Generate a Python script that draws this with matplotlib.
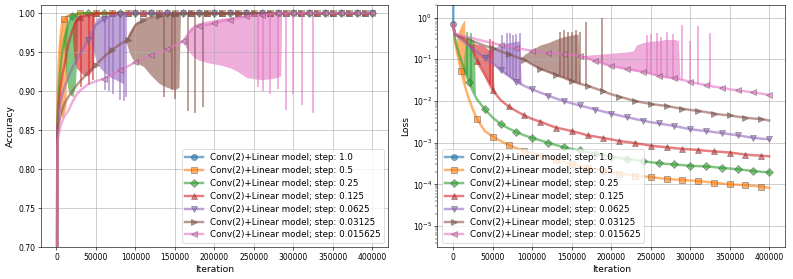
import numpy as np
import matplotlib
matplotlib.use("Agg")
import matplotlib.pyplot as plt

plt.rcParams.update({
    "font.size": 10,
    "axes.labelsize": 12,
    "legend.fontsize": 11.4,
    "legend.labelspacing": 0.45,
    "axes.grid": True,
})

# iteration grid shared by the mean curves
ITER = [0, 1000, 2000, 3000, 5000, 7500, 10000, 15000, 20000, 25000, 30000,
        40000, 50000, 60000, 70000, 80000, 90000, 100000, 110000, 120000, 130000,
        140000, 150000, 160000, 170000, 180000, 190000, 200000, 210000, 220000, 230000,
        240000, 250000, 260000, 270000, 280000, 290000, 300000, 310000, 320000, 330000,
        340000, 350000, 360000, 370000, 380000, 390000, 400000]

STEPS   = ["1.0", "0.5", "0.25", "0.125", "0.0625", "0.03125", "0.015625"]
MARKERS = ["o", "s", "D", "^", "v", ">", "<"]
COLORS  = ["C0", "C1", "C2", "C3", "C4", "C5", "C6"]

# step 1.0 diverges right away
blue_x    = [0, 400]
blue_acc  = [0.10, 0.10]
blue_loss = [0.7, 100.0]

# ---- accuracy curves ----
acc_05 = [0.10, 0.86, 0.915, 0.94, 0.97, 0.99, 0.993, 0.997, 0.998, 0.999, 1.0,
          1.0, 1.0, 1.0, 1.0, 1.0, 1.0, 1.0, 1.0, 1.0, 1.0,
          1.0, 1.0, 1.0, 1.0, 1.0, 1.0, 1.0, 1.0, 1.0, 1.0,
          1.0, 1.0, 1.0, 1.0, 1.0, 1.0, 1.0, 1.0, 1.0, 1.0,
          1.0, 1.0, 1.0, 1.0, 1.0, 1.0, 1.0]
acc_025 = [0.10, 0.85, 0.88, 0.905, 0.93, 0.952, 0.967, 0.988, 0.997, 0.999, 1.0,
           1.0, 1.0, 1.0, 1.0, 1.0, 1.0, 1.0, 1.0, 1.0, 1.0,
           1.0, 1.0, 1.0, 1.0, 1.0, 1.0, 1.0, 1.0, 1.0, 1.0,
           1.0, 1.0, 1.0, 1.0, 1.0, 1.0, 1.0, 1.0, 1.0, 1.0,
           1.0, 1.0, 1.0, 1.0, 1.0, 1.0, 1.0]
acc_0125 = [0.10, 0.85, 0.87, 0.885, 0.905, 0.922, 0.933, 0.96, 0.978, 0.99, 0.995,
            0.998, 1.0, 1.0, 1.0, 1.0, 1.0, 1.0, 1.0, 1.0, 1.0,
            1.0, 1.0, 1.0, 1.0, 1.0, 1.0, 1.0, 1.0, 1.0, 1.0,
            1.0, 1.0, 1.0, 1.0, 1.0, 1.0, 1.0, 1.0, 1.0, 1.0,
            1.0, 1.0, 1.0, 1.0, 1.0, 1.0, 1.0]
acc_00625 = [0.10, 0.845, 0.86, 0.872, 0.885, 0.897, 0.905, 0.918, 0.93, 0.94, 0.948,
             0.966, 0.985, 0.993, 0.997, 0.999, 1.0, 1.0, 1.0, 1.0, 1.0,
             1.0, 1.0, 1.0, 1.0, 1.0, 1.0, 1.0, 1.0, 1.0, 1.0,
             1.0, 1.0, 1.0, 1.0, 1.0, 1.0, 1.0, 1.0, 1.0, 1.0,
             1.0, 1.0, 1.0, 1.0, 1.0, 1.0, 1.0]
acc_003125 = [0.10, 0.84, 0.85, 0.858, 0.868, 0.877, 0.884, 0.893, 0.90, 0.907, 0.913,
              0.924, 0.934, 0.944, 0.953, 0.96, 0.966, 0.985, 0.992, 0.995, 0.997,
              0.998, 0.999, 1.0, 1.0, 1.0, 1.0, 1.0, 1.0, 1.0, 1.0,
              1.0, 1.0, 1.0, 1.0, 1.0, 1.0, 1.0, 1.0, 1.0, 1.0,
              1.0, 1.0, 1.0, 1.0, 1.0, 1.0, 1.0]
acc_0015625 = [0.10, 0.83, 0.84, 0.845, 0.855, 0.862, 0.868, 0.875, 0.886, 0.895, 0.901,
               0.909, 0.913, 0.916, 0.921, 0.927, 0.932, 0.937, 0.942, 0.946, 0.95,
               0.954, 0.959, 0.964, 0.978, 0.984, 0.985, 0.987, 0.99, 0.992, 0.994,
               0.996, 0.997, 0.998, 0.999, 1.0, 1.0, 1.0, 1.0, 1.0, 1.0,
               1.0, 1.0, 1.0, 1.0, 1.0, 1.0, 1.0]

# ---- loss curves ----
loss_05 = [0.7, 0.5, 0.3, 0.22, 0.14, 0.085, 0.053, 0.022, 0.011, 0.0062, 0.0037,
           0.0019, 0.0014, 0.0011, 8.8e-4, 7.4e-4, 6.4e-4, 5.6e-4, 4.9e-4, 4.3e-4, 3.8e-4,
           3.4e-4, 3.05e-4, 2.75e-4, 2.5e-4, 2.3e-4, 2.1e-4, 1.95e-4, 1.82e-4, 1.72e-4, 1.63e-4,
           1.56e-4, 1.5e-4, 1.42e-4, 1.35e-4, 1.31e-4, 1.28e-4, 1.24e-4, 1.2e-4, 1.15e-4, 1.1e-4,
           1.05e-4, 1.0e-4, 9.8e-5, 9.6e-5, 9.2e-5, 8.9e-5, 8.2e-5]
loss_025 = [0.7, 0.5, 0.33, 0.27, 0.19, 0.13, 0.095, 0.05, 0.028, 0.017, 0.011,
            0.0063, 0.004, 0.0028, 0.0022, 0.0018, 0.0015, 0.0013, 0.00114, 0.001, 8.8e-4,
            7.8e-4, 7.1e-4, 6.5e-4, 5.9e-4, 5.4e-4, 5.0e-4, 4.6e-4, 4.35e-4, 4.1e-4, 3.85e-4,
            3.6e-4, 3.4e-4, 3.25e-4, 3.1e-4, 3.0e-4, 2.9e-4, 2.8e-4, 2.75e-4, 2.7e-4, 2.6e-4,
            2.5e-4, 2.4e-4, 2.3e-4, 2.2e-4, 2.1e-4, 2.0e-4, 1.95e-4]
loss_0125 = [0.7, 0.5, 0.41, 0.39, 0.37, 0.35, 0.33, 0.28, 0.23, 0.16, 0.09,
             0.042, 0.018, 0.0105, 0.0074, 0.0057, 0.0045, 0.0037, 0.0032, 0.0027, 0.0023,
             0.0021, 0.0019, 0.0017, 0.0015, 0.0014, 0.0013, 0.0012, 0.0011, 0.00104, 9.8e-4,
             9.1e-4, 8.5e-4, 8.1e-4, 7.8e-4, 7.4e-4, 7.1e-4, 6.9e-4, 6.7e-4, 6.4e-4, 6.2e-4,
             6.0e-4, 5.8e-4, 5.5e-4, 5.2e-4, 5.0e-4, 4.9e-4, 4.7e-4]
loss_00625 = [0.7, 0.5, 0.41, 0.39, 0.36, 0.33, 0.3, 0.25, 0.21, 0.175, 0.15,
              0.11, 0.08, 0.055, 0.04, 0.029, 0.023, 0.019, 0.016, 0.0135, 0.0115,
              0.01, 0.0088, 0.0078, 0.007, 0.0062, 0.0056, 0.005, 0.0045, 0.0041, 0.0037,
              0.0034, 0.0031, 0.0029, 0.0027, 0.0025, 0.0023, 0.0021, 0.002, 0.0019, 0.0018,
              0.0017, 0.0016, 0.0015, 0.0014, 0.0013, 0.00125, 0.0012]
loss_003125 = [0.7, 0.5, 0.41, 0.4, 0.38, 0.36, 0.35, 0.32, 0.3, 0.27, 0.25,
               0.21, 0.185, 0.155, 0.132, 0.113, 0.097, 0.075, 0.059, 0.05, 0.042,
               0.036, 0.03, 0.026, 0.023, 0.02, 0.017, 0.0145, 0.0128, 0.0113, 0.01,
               0.0092, 0.0085, 0.008, 0.0076, 0.007, 0.0065, 0.0061, 0.0058, 0.0054, 0.005,
               0.0047, 0.0045, 0.0042, 0.004, 0.0038, 0.0037, 0.0034]
loss_0015625 = [0.7, 0.5, 0.42, 0.41, 0.4, 0.385, 0.37, 0.355, 0.34, 0.32, 0.3,
                0.27, 0.245, 0.22, 0.2, 0.185, 0.172, 0.16, 0.152, 0.145, 0.14,
                0.135, 0.128, 0.12, 0.105, 0.09, 0.078, 0.069, 0.063, 0.058, 0.054,
                0.05, 0.045, 0.04, 0.037, 0.035, 0.032, 0.029, 0.026, 0.024, 0.022,
                0.021, 0.019, 0.018, 0.017, 0.016, 0.015, 0.014]

# ---- oscillation envelopes (x, low, high) ----
acc_band_05 = ([2000, 3500, 7500, 12000, 14000],
               [0.88, 0.876, 0.865, 0.88, 0.995],
               [0.90, 0.96, 0.99, 0.997, 0.998])
acc_band_025 = ([9000, 12000, 15000, 18000, 21000, 24000, 26000, 27000],
                [0.96, 0.92, 0.90, 0.895, 0.893, 0.91, 0.95, 0.998],
                [0.965, 0.98, 0.988, 0.995, 0.998, 0.999, 1.0, 1.0])
acc_band_0125 = ([20000, 22000, 25000, 30000, 35000, 40000, 44000, 47000, 48000],
                 [0.975, 0.945, 0.93, 0.925, 0.92, 0.92, 0.925, 0.93, 0.998],
                 [0.978, 0.99, 0.995, 0.997, 0.998, 0.999, 1.0, 1.0, 1.0])
acc_band_00625 = ([44000, 47000, 50000, 55000, 60000, 65000, 70000, 75000, 80000, 85000, 86000],
                  [0.965, 0.95, 0.94, 0.93, 0.925, 0.92, 0.917, 0.915, 0.912, 0.91, 0.999],
                  [0.97, 0.985, 0.993, 0.996, 0.997, 0.998, 0.998, 0.999, 0.999, 1.0, 1.0])
acc_band_003125 = ([88000, 92000, 96000, 100000, 110000, 120000, 130000, 140000, 150000, 155000, 157000],
                   [0.964, 0.95, 0.942, 0.937, 0.932, 0.92, 0.91, 0.905, 0.902, 0.905, 0.999],
                   [0.966, 0.976, 0.982, 0.988, 0.992, 0.995, 0.997, 0.998, 0.999, 1.0, 1.0])
acc_band_0015625 = ([160000, 165000, 170000, 175000, 180000, 190000, 200000, 210000, 220000,
                     230000, 240000, 250000, 260000, 270000, 280000, 284000, 285000],
                    [0.962, 0.955, 0.948, 0.943, 0.94, 0.937, 0.935, 0.933, 0.93,
                     0.925, 0.918, 0.916, 0.915, 0.916, 0.918, 0.92, 0.999],
                    [0.964, 0.975, 0.982, 0.986, 0.988, 0.99, 0.992, 0.994, 0.995,
                     0.996, 0.997, 0.998, 0.998, 0.999, 1.0, 1.0, 1.0])

loss_band_05 = ([4000, 7000, 10000, 13500, 14500, 15000],
                [0.17, 0.1, 0.053, 0.03, 0.026, 0.024],
                [0.30, 0.48, 0.65, 0.85, 0.85, 0.024])
loss_band_025 = ([13500, 15000, 18000, 21000, 24000, 26500, 28000],
                 [0.055, 0.048, 0.036, 0.026, 0.02, 0.016, 0.0145],
                 [0.10, 0.30, 0.35, 0.33, 0.30, 0.28, 0.015])
loss_band_0125 = ([22000, 25000, 30000, 35000, 40000, 45000, 50000, 51500],
                  [0.20, 0.16, 0.09, 0.065, 0.042, 0.028, 0.019, 0.018],
                  [0.22, 0.24, 0.23, 0.22, 0.20, 0.17, 0.16, 0.02])
loss_band_00625 = ([38000, 42000, 46000, 50000, 55000, 60000, 65000, 70000, 75000, 80000, 84000, 86000],
                   [0.115, 0.1, 0.088, 0.08, 0.066, 0.055, 0.047, 0.04, 0.034, 0.029, 0.026, 0.025],
                   [0.12, 0.14, 0.16, 0.18, 0.20, 0.22, 0.24, 0.25, 0.26, 0.27, 0.27, 0.026])
loss_band_003125 = ([86000, 90000, 100000, 110000, 120000, 130000, 140000, 150000, 155000, 158000, 160000],
                    [0.1, 0.097, 0.075, 0.059, 0.05, 0.042, 0.036, 0.03, 0.028, 0.027, 0.026],
                    [0.11, 0.13, 0.17, 0.22, 0.25, 0.30, 0.35, 0.38, 0.40, 0.40, 0.027])
loss_band_0015625 = ([160000, 170000, 180000, 190000, 200000, 210000, 220000, 228000, 232000,
                      240000, 250000, 260000, 270000, 280000, 285000, 287000],
                     [0.12, 0.105, 0.09, 0.078, 0.069, 0.063, 0.058, 0.054, 0.052,
                      0.05, 0.045, 0.04, 0.037, 0.035, 0.033, 0.033],
                     [0.12, 0.125, 0.13, 0.135, 0.14, 0.145, 0.15, 0.16, 0.22,
                      0.25, 0.27, 0.28, 0.30, 0.30, 0.28, 0.034])

# ---- isolated spikes (x, far end) ----
acc_spk_0125 = ([31000, 41000, 46000], [0.905, 0.908, 0.915])
acc_spk_00625 = ([62000, 66000, 72000, 81000, 85000, 88000],
                 [0.902, 0.90, 0.897, 0.889, 0.887, 0.893])
acc_spk_003125 = ([136000, 146000, 150000, 167000, 176000, 186000],
                  [0.893, 0.902, 0.89, 0.875, 0.872, 0.88])
acc_spk_0015625 = ([255000, 262000, 270000, 281000, 290000, 300000, 311000, 325000],
                   [0.905, 0.90, 0.897, 0.903, 0.876, 0.897, 0.882, 0.872])

loss_spk_025 = ([17000, 23000], [0.46, 0.43])
loss_spk_0125 = ([47000, 50000], [0.30, 0.27])
loss_spk_00625 = ([62000, 68000, 72000, 76000, 80000, 84000],
                  [0.38, 0.42, 0.42, 0.38, 0.40, 0.42])
loss_spk_003125 = ([135000, 140000, 145000, 150000, 155000, 160000, 168000, 188000],
                   [0.45, 0.50, 0.46, 0.45, 0.50, 0.45, 0.80, 1.0])
loss_spk_0015625 = ([245000, 250000, 258000, 263000, 271000, 278000, 289000, 300000, 310000, 325000],
                    [0.38, 0.40, 0.42, 0.35, 0.44, 0.40, 0.67, 0.27, 0.64, 0.42])

acc_curves  = [acc_05, acc_025, acc_0125, acc_00625, acc_003125, acc_0015625]
loss_curves = [loss_05, loss_025, loss_0125, loss_00625, loss_003125, loss_0015625]
acc_bands   = [acc_band_05, acc_band_025, acc_band_0125, acc_band_00625, acc_band_003125, acc_band_0015625]
loss_bands  = [loss_band_05, loss_band_025, loss_band_0125, loss_band_00625, loss_band_003125, loss_band_0015625]
acc_spikes  = [None, None, acc_spk_0125, acc_spk_00625, acc_spk_003125, acc_spk_0015625]
loss_spikes = [None, loss_spk_025, loss_spk_0125, loss_spk_00625, loss_spk_003125, loss_spk_0015625]

ALPHA = 0.6
LW = 3.2


def marks_for(xs, i):
    # markers every 20000 iterations, shifted by 10000 per series
    return [j for j, x in enumerate(xs) if x >= 10000 * i and (x - 10000 * i) % 20000 == 0]


def draw(ax, blue, curves, bands, spikes):
    ax.plot(blue_x, blue, color=COLORS[0], marker=MARKERS[0], markevery=[0],
            lw=LW, ms=8, mec="0.35", alpha=ALPHA,
            label=f"Conv(2)+Linear model; step: {STEPS[0]}")
    for k, ys in enumerate(curves):
        i = k + 1
        c = COLORS[i]
        bx, lo, hi = bands[k]
        ax.fill_between(bx, lo, hi, color=c, alpha=ALPHA, lw=0)
        if spikes[k] is not None:
            sx, sy = spikes[k]
            base = np.interp(sx, ITER, ys)
            ax.vlines(sx, np.minimum(sy, base), np.maximum(sy, base),
                      color=c, alpha=ALPHA, lw=2.4)
        ax.plot(ITER, ys, color=c, marker=MARKERS[i], markevery=marks_for(ITER, i),
                lw=LW, ms=8, mec="0.35", alpha=ALPHA,
                label=f"Conv(2)+Linear model; step: {STEPS[i]}")


fig, (ax1, ax2) = plt.subplots(1, 2, figsize=(793 / 55, 279 / 55), dpi=55)

draw(ax1, blue_acc, acc_curves, acc_bands, acc_spikes)
ax1.set_ylim(0.70, 1.0106)
ax1.set_xlim(-20000, 420000)
ax1.set_xlabel("Iteration")
ax1.set_ylabel("Accuracy")
ax1.legend(loc="lower right")

draw(ax2, blue_loss, loss_curves, loss_bands, loss_spikes)
ax2.set_yscale("log")
ax2.set_ylim(3.1e-6, 2.0)
ax2.set_xlim(-20000, 420000)
ax2.set_xlabel("Iteration")
ax2.set_ylabel("Loss")
ax2.legend(loc="lower left")

plt.subplots_adjust(left=0.0513, right=0.9899, bottom=0.1136, top=0.982, wspace=0.1416)
plt.savefig("out.png", dpi=55)
plt.close()
